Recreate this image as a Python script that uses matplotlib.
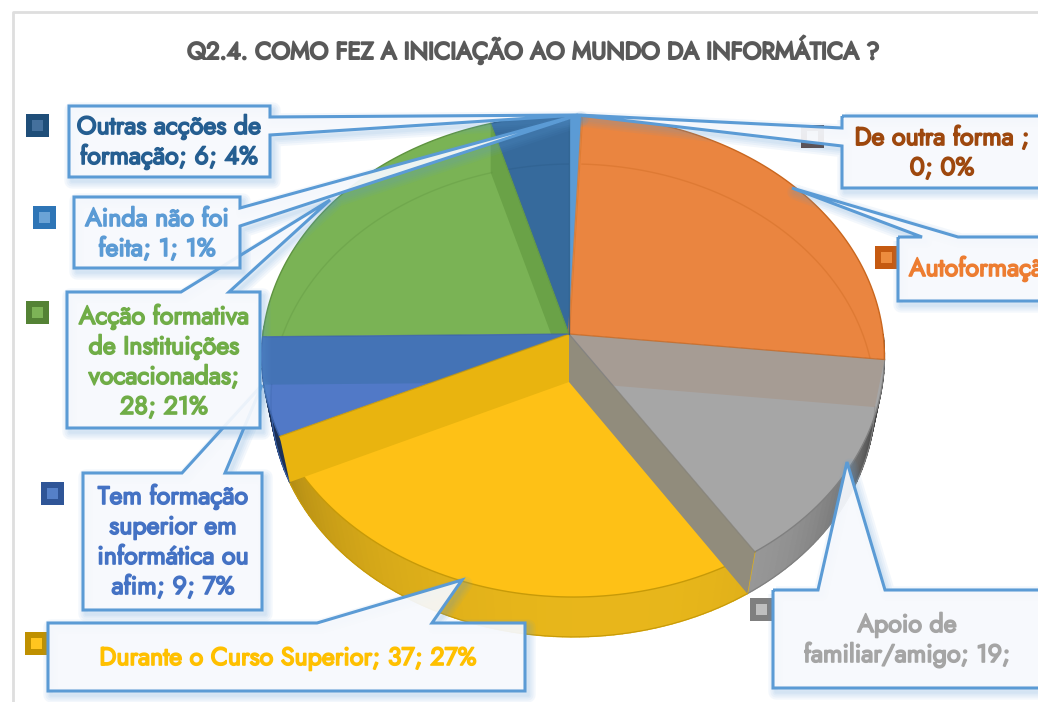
import numpy as np
import matplotlib
matplotlib.use("Agg")
import matplotlib.pyplot as plt
import matplotlib.patheffects as pe
from matplotlib.colors import to_rgb
from matplotlib.patches import Polygon

# slices, clockwise from the top of the pie
labels = ["Ainda não foi", "De outra forma", "Autoformação", "Apoio de familiar/amigo",
          "Durante o Curso Superior", "Tem formação superior", "Acção formativa", "Outras acções"]
values = [1, 0, 35, 19, 37, 9, 28, 6]

title = "Q2.4. COMO FEZ A INICIAÇÃO AO MUNDO DA INFORMÁTICA ?"
texts = ["Ainda não foi\nfeita; 1; 1%", "De outra forma ;\n0; 0%", "Autoformação; 35; 27%",
         "Apoio de\nfamiliar/amigo; 19;", "Durante o Curso Superior; 37; 27%",
         "Tem formação\nsuperior em\ninformática ou\nafim; 9; 7%",
         "Acção formativa\nde Instituições\nvocacionadas;\n28; 21%",
         "Outras acções de\nformação; 6; 4%"]

top_colors = ["#5b9bd5", "#9e480e", "#ea8540", "#a6a6a6", "#fec116", "#5179c7", "#7ab355", "#366a9c"]
face_colors = [None, None, "#a69c94", "#918c7c", "#e9b40f", "#4473b6", "#6aa247", "#326696"]
wall_colors = ["#5b9bd5", "#9e480e", "#ea8540", "#a6a6a6", "#f4c01c", "#27457c", "#7ab355", "#366a9c"]
edge_colors = ["#dd7a30", "#9e480e", "#c9661e", "#808080", "#c79a08", "#3b62a8", "#5f9440", "#2a5a86"]
text_colors = ["#5b9bd5", "#9e480e", "#ed7d31", "#a5a5a5", "#ffc000", "#4472c4", "#70ad47", "#255e91"]
key_outer = ["#2e75b6", "#5a3d30", "#c55a11", "#7f7f7f", "#bf9000", "#2f5597", "#548235", "#1f4e79"]
key_inner = ["#6ba3d6", "#efeae6", "#ed8c3e", "#bfbfbf", "#ffc51f", "#5580c8", "#7db356", "#44709d"]

# callout layout: box x0, y0, x1, y1, then the pointer base and tip
boxes = [(74, 197, 240, 268), (842, 116, 1046, 188), (898, 237, 1046, 301), (773, 590, 1046, 688),
         (48, 623, 525, 691), (83, 473, 262, 610), (67, 292, 260, 428), (69, 106, 270, 177)]
pointers = [("r", 208, 226, (578, 115)), ("l", 128, 146, (578, 115)), ("t", 922, 958, (792, 188)),
            ("t", 818, 885, (847, 462)), ("t", 317, 432, (462, 580)), ("t", 182, 225, (262, 385)),
            ("t", 181, 229, (330, 200)), ("r", 117, 135, (578, 115))]
text_pos = [(157, 234), (942, 153), (909, 269), (907, 640), (288, 658), (173, 542), (164, 362), (169, 142)]
keys = [(33, 206), (801, 125), (875, 246), (750, 598), (25, 632), (41, 482), (26, 301), (26, 114)]
draw_order = [1, 2, 3, 4, 5, 6, 0, 7]

plt.rcParams["font.family"] = ["Jost", "Liberation Sans", "DejaVu Sans"]

fig = plt.figure(figsize=(10.38, 7.02), dpi=100)
ax = fig.add_axes([0, 0, 1, 1])
ax.set_xlim(0, 1038)
ax.set_ylim(702, 0)
ax.axis("off")


def project(theta, bottom=False):
    # perspective view of the disc, theta in degrees clockwise from the top
    t = np.radians(theta)
    u, v = np.sin(t), np.cos(t)
    if bottom:
        w = 1 + 0.078 * v - 0.013 * u
        return np.column_stack([569 + 301 * u / w, 382 - 235 * v / w])
    w = 1 + 0.0913 * v - 0.013 * u
    return np.column_stack([569 + 310 * u / w, 334 - 239 * v / w])


def apex(bottom=False):
    return np.array([[569.0, 382.0 if bottom else 334.0]])


def shade(col, f):
    return tuple(c * f for c in to_rgb(col))


def wall_shade(theta):
    d = abs(theta - 175) / 75
    if theta < 175:
        return max(0.22, 0.95 - 0.7 * d ** 3)
    return 0.95 - 0.25 * d ** 2


def heavy(col, width):
    # the family has one weight here, thicken it with an outline
    return [pe.withStroke(linewidth=width, foreground=col)]


# chart frame
ax.plot([12.5, 12.5, 1038], [702, 12, 12], color="#dedede", lw=2, zorder=1)

ax.text(533, 50, title, ha="center", va="center", fontsize=17.2, color="#595959", zorder=2,
        path_effects=heavy("#595959", 1.4))

for i in range(len(labels)):
    x, y = keys[i]
    ax.add_patch(Polygon([(x, y), (x + 23, y), (x + 23, y + 23), (x, y + 23)], fc=key_outer[i], ec="none", zorder=2))
    ax.add_patch(Polygon([(x + 6, y + 6), (x + 17, y + 6), (x + 17, y + 17), (x + 6, y + 17)], fc=key_inner[i], ec="none", zorder=2))

angles = np.cumsum([0] + values) / sum(values) * 360

# outer wall of the front slices
for i in range(len(labels)):
    a0, a1 = angles[i], angles[i + 1]
    if a1 <= 90 or a0 >= 272 or a1 == a0:
        continue
    steps = np.arange(max(a0, 90), min(a1, 272) + 1.5, 1.5)
    steps[-1] = min(a1, 272)
    for s0, s1 in zip(steps[:-1], steps[1:]):
        top = project(np.array([s0, s1]))
        low = project(np.array([s0, s1]), bottom=True)
        col = shade(wall_colors[i], wall_shade((s0 + s1) / 2))
        ax.add_patch(Polygon(np.vstack([top, low[::-1]]), fc=col, ec=col, lw=1, zorder=3))
    low = project(np.linspace(max(a0, 90), min(a1, 272), 40), bottom=True)
    ax.plot(low[:, 0], low[:, 1], color=edge_colors[i], lw=0.8, zorder=3)

# top surface of the slices
wedges = []
for i in range(len(labels)):
    rim = project(np.linspace(angles[i], angles[i + 1], 80))
    patch = Polygon(np.vstack([apex(), rim]), fc=top_colors[i], ec="none", zorder=4)
    ax.add_patch(patch)
    wedges.append(patch)
    if values[i] > 0 and i > 0:
        ax.plot(rim[:, 0], rim[:, 1], color=edge_colors[i], lw=1, zorder=5)

# inner faces of the slices, seen through the top
for i in range(len(labels)):
    if face_colors[i] is None:
        continue
    a = angles[i + 1]
    rim_top = project(np.array([a]))
    rim_low = project(np.array([a]), bottom=True)
    if a > 260:
        # far side faces only show inside the slice they sit on
        rim_low[0, 0] = rim_top[0, 0]
    quad = np.vstack([apex(), rim_top, rim_low, apex(bottom=True)])
    face = Polygon(quad, fc=face_colors[i], ec="none", zorder=5)
    ax.add_patch(face)
    if a > 260:
        face.set_clip_path(wedges[i])

# bottom rim, faint line through the top
for i in range(len(labels)):
    if values[i] == 0 or i == 0:
        continue
    arc = project(np.linspace(angles[i], angles[i + 1], 60), bottom=True)
    ln, = ax.plot(arc[:, 0], arc[:, 1], color=edge_colors[i], lw=1, alpha=0.35, zorder=6)
    ln.set_clip_path(wedges[i])

# radial seams
for i in range(len(labels)):
    if values[i] == 0:
        continue
    p = project(np.array([angles[i + 1]]))
    ax.plot([569, p[0, 0]], [334, p[0, 1]], color=edge_colors[i], lw=1.6 if i == 0 else 0.9, alpha=0.8, zorder=6)

# callouts
for n, i in enumerate(draw_order):
    x0, y0, x1, y1 = boxes[i]
    side, b0, b1, tip = pointers[i]
    if side == "t":
        pts = [(x0, y0), (b0, y0), tip, (b1, y0), (x1, y0), (x1, y1), (x0, y1)]
    elif side == "r":
        pts = [(x0, y0), (x1, y0), (x1, b0), tip, (x1, b1), (x1, y1), (x0, y1)]
    else:
        pts = [(x0, y0), (x1, y0), (x1, y1), (x0, y1), (x0, b1), tip, (x0, b0)]
    pts = np.array(pts, dtype=float)
    z = 10 + n
    for lw in (11, 8, 5, 2.5):
        ax.add_patch(Polygon(pts + [3, 4], fill=False, ec="#5b9bd5", lw=lw, alpha=0.07, joinstyle="round", zorder=z))
    ax.add_patch(Polygon(pts, fc="#f7f9fd", ec="none", alpha=0.93, zorder=z))
    ax.add_patch(Polygon(pts, fill=False, ec="#5b9bd5", lw=2.2, joinstyle="miter", zorder=z))
    tx, ty = text_pos[i]
    ha = "left" if i == 2 else "center"
    ax.text(tx, ty, texts[i], ha=ha, va="center", multialignment="center", fontsize=18,
            color=text_colors[i], linespacing=1.2, zorder=z, path_effects=heavy(text_colors[i], 1.2))

fig.savefig("out.png", dpi=100, facecolor="white")
